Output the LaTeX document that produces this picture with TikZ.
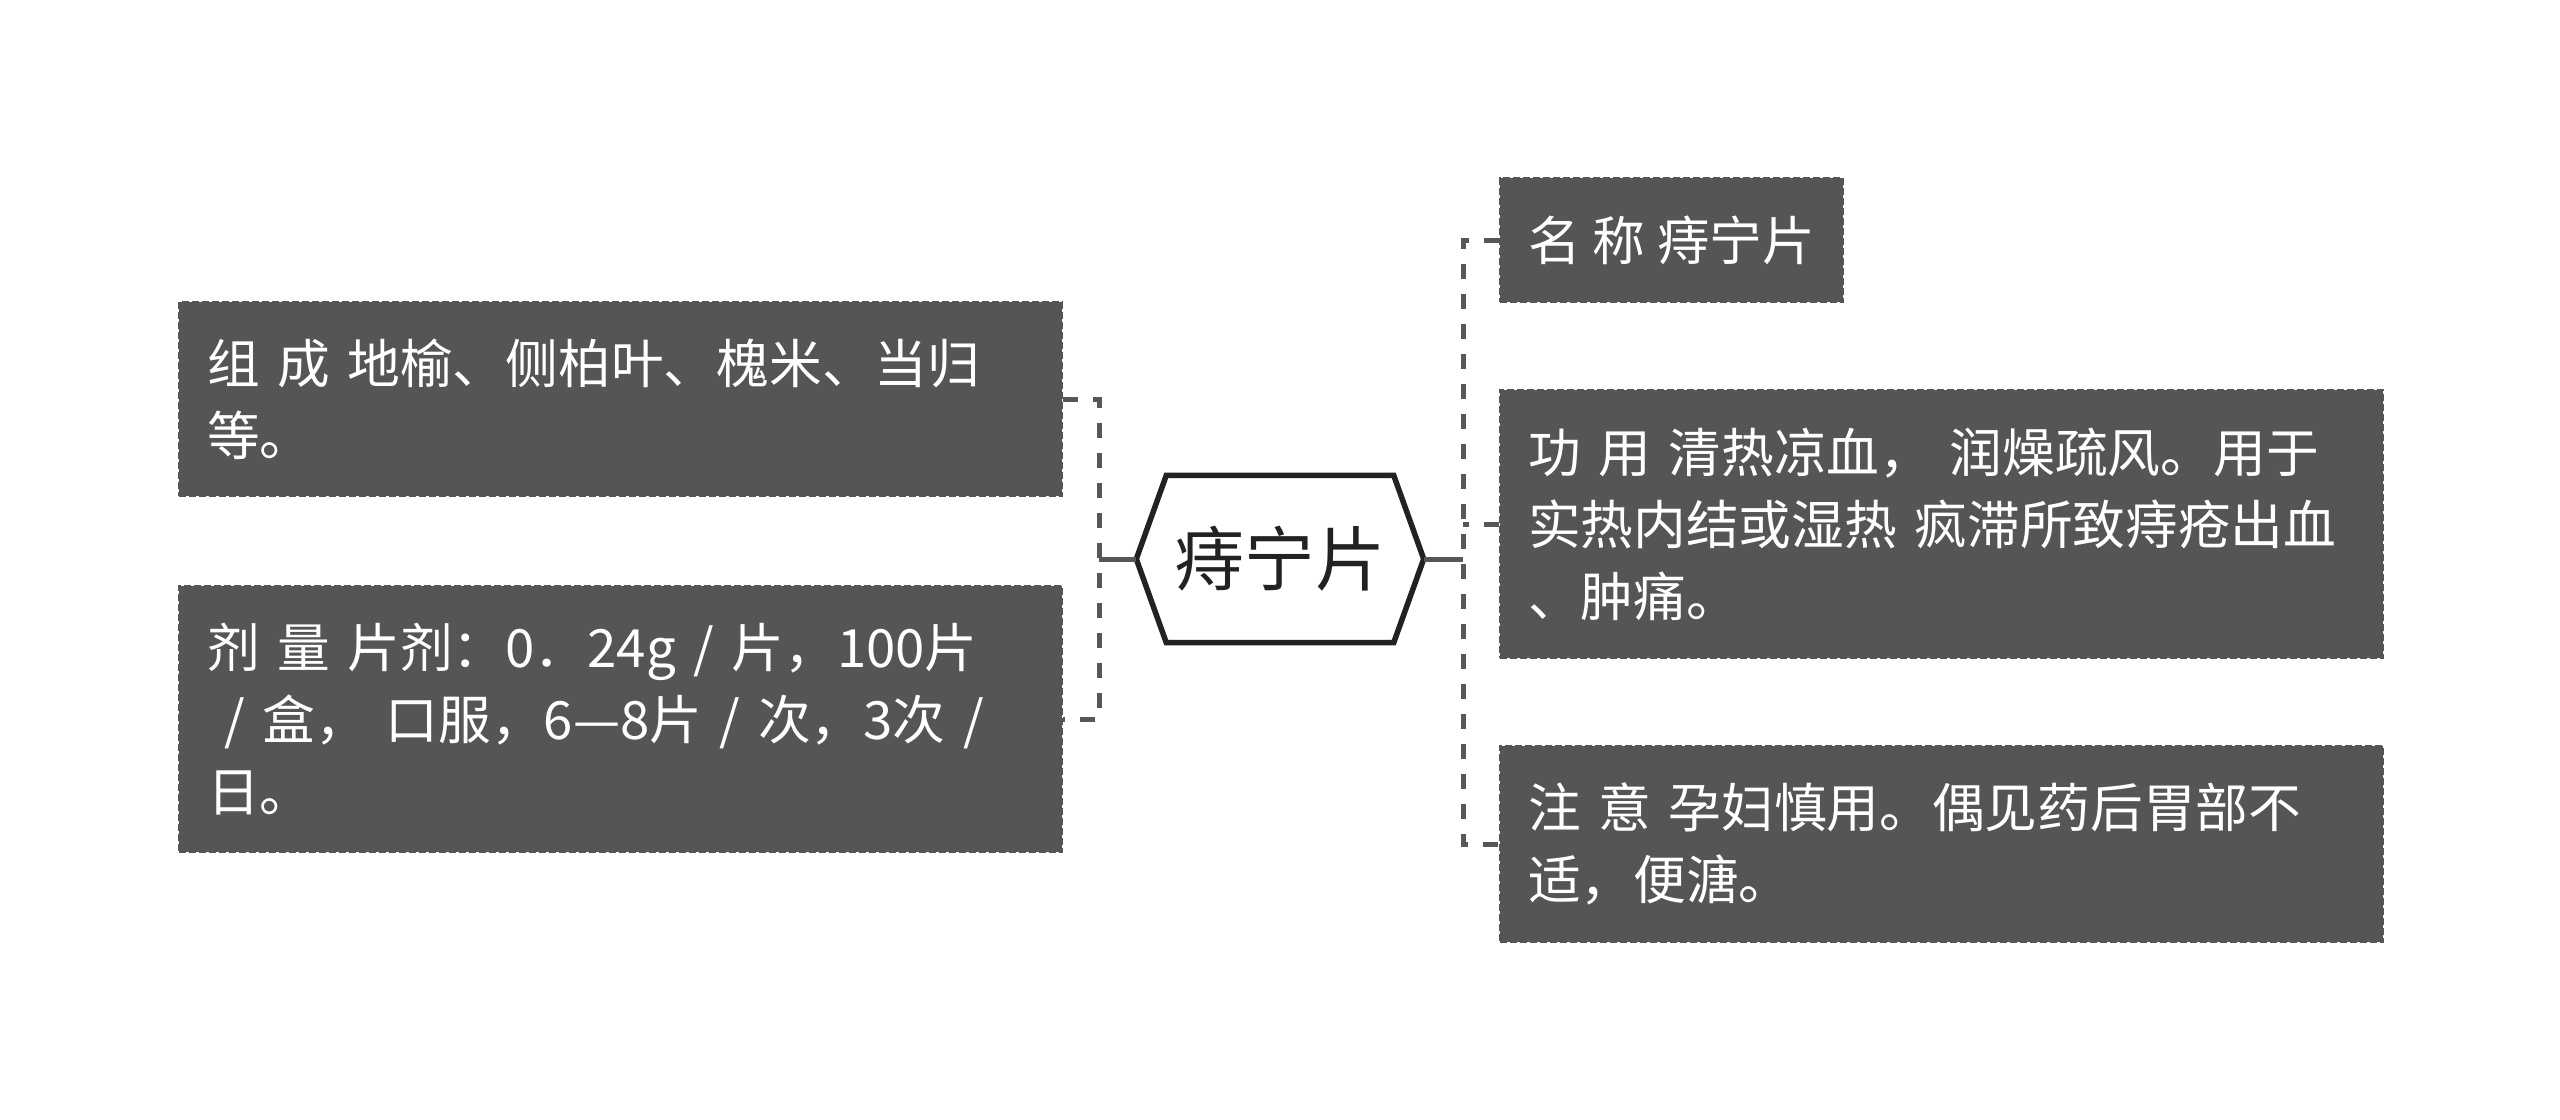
\documentclass[tikz,border=0pt]{standalone}
\usepackage{fontspec}
\setmainfont{Noto Sans CJK SC}
\usetikzlibrary{calc}
\definecolor{boxgray}{HTML}{555555}
\definecolor{linkgray}{HTML}{575757}
\definecolor{hubink}{HTML}{222222}
\begin{document}
\begin{tikzpicture}[
		leaf/.style={anchor=west, fill=boxgray, draw=boxgray, line width=0.02cm, dash pattern=on 0.07cm off 0.03cm, text=white, font=\fontsize{15pt}{20.5pt}\selectfont, align=left, inner xsep=0.28cm, inner ysep=0pt},
		wide/.style={leaf, text width=8.27cm},
		hub/.style={minimum width=2.86cm, minimum height=1.66cm, inner sep=0pt, text=hubink, font=\fontsize{20pt}{22pt}\selectfont},
		hexline/.style={draw=hubink, line width=0.055cm, line join=miter},
		stem/.style={draw=linkgray, line width=0.05cm},
		link/.style={stem, dash pattern=on 0.15cm off 0.15cm}]
			\useasboundingbox (0,0) rectangle (25.6,-11.2);
			\fill[white] (0,0) rectangle (25.6,-11.2);
			% the root, a flat hexagon
			\node[hub] (hub) at (12.80,-5.59) {痔宁片};
			\draw[hexline] (hub.west) -- ($(hub.north west)+(0.30,0)$) -- ($(hub.north east)+(-0.30,0)$) -- (hub.east) -- ($(hub.south east)+(-0.30,0)$) -- ($(hub.south west)+(0.30,0)$) -- cycle;
			% left branch
			\node[wide, minimum height=1.94cm] (zucheng) at (1.78,-3.99) {组 成 地榆、侧柏叶、槐米、当归\\等。};
			\node[wide, minimum height=2.66cm] (jiliang) at (1.78,-7.19) {剂 量 片剂：0．24g / 片，100片\\\ / 盒， 口服，6—8片 / 次，3次 /\\日。};
			% right branch
			\node[leaf, minimum height=1.24cm] (mingcheng) at (14.99,-2.40) {名 称 痔宁片};
			\node[wide, minimum height=2.68cm] (gongyong) at (14.99,-5.24) {功 用 清热凉血， 润燥疏风。用于\\\mbox{实热内结或湿热 疯滞所致痔疮出血}\\、肿痛。};
			\node[wide, minimum height=1.96cm] (zhuyi) at (14.99,-8.44) {注 意 孕妇慎用。偶见药后胃部不\\适，便溏。};
			% connectors
			\coordinate (ljoin) at (10.99,-5.59);
			\coordinate (rjoin) at (14.63,-5.59);
			\draw[stem] (hub.west) -- (ljoin);
			\draw[stem] (hub.east) -- (rjoin);
			\draw[link] (zucheng.east) -- (zucheng.east -| ljoin) -- (jiliang.east -| ljoin) -- (jiliang.east);
			\draw[link] (mingcheng.west) -- (mingcheng.west -| rjoin) -- (zhuyi.west -| rjoin) -- (zhuyi.west);
			\draw[link] (gongyong.west) -- (gongyong.west -| rjoin);
		\end{tikzpicture}
\end{document}
